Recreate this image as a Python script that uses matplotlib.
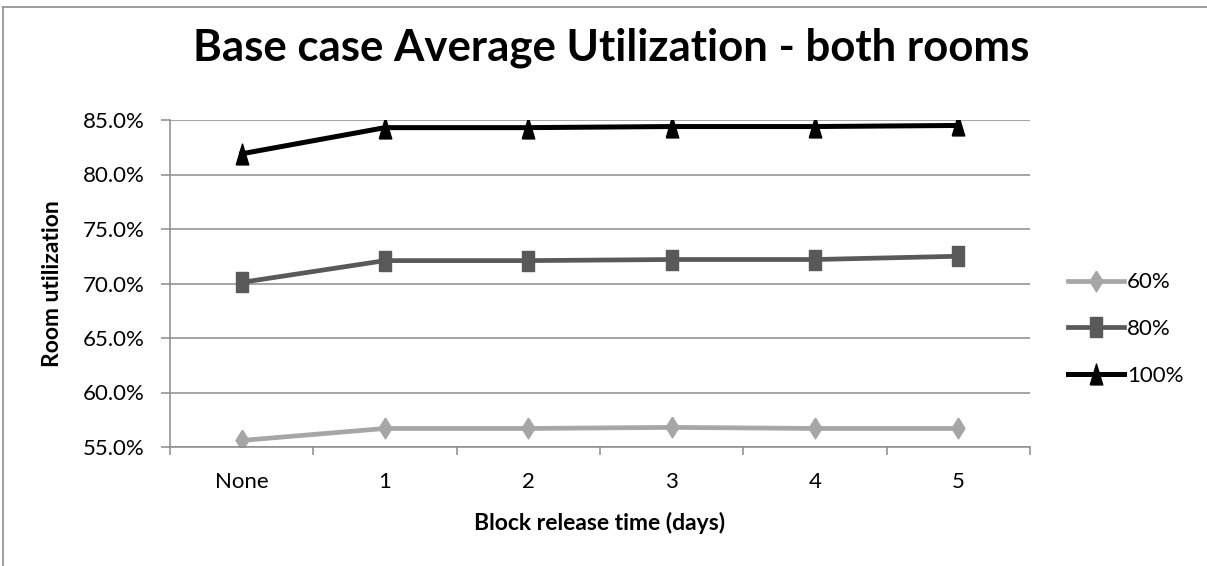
import matplotlib
matplotlib.use("Agg")
import matplotlib.pyplot as plt
from matplotlib.lines import Line2D
from matplotlib.ticker import FuncFormatter, FixedLocator

# Data
categories = ["None", "1", "2", "3", "4", "5"]
util_60 = [55.6, 56.7, 56.7, 56.8, 56.7, 56.7]
util_80 = [70.1, 72.1, 72.1, 72.2, 72.2, 72.5]
util_100 = [81.9, 84.3, 84.3, 84.4, 84.4, 84.5]
series_labels = ["60%", "80%", "100%"]

plt.rcParams['font.family'] = ['Lato', 'DejaVu Sans']

W, H = 1207, 566
fig = plt.figure(figsize=(W / 100, H / 100), dpi=100)

# plot area in pixel coordinates of the reference
left, right, top, bottom = 170, 1030, 120, 447
ax = fig.add_axes([left / W, 1 - bottom / H, (right - left) / W, (bottom - top) / H])

# markers are a bit taller than wide in the reference
diamond = [(0, 1), (0.62, 0), (0, -1), (-0.62, 0), (0, 1)]
square = [(-0.6, -1), (0.6, -1), (0.6, 1), (-0.6, 1), (-0.6, -1)]
triangle = [(-0.6, -1), (0.6, -1), (0, 1), (-0.6, -1)]

x = list(range(len(categories)))
ax.plot(x, util_60, color='#a6a6a6', lw=3.4, marker=diamond, markersize=15,
        label=series_labels[0], solid_joinstyle='round')
ax.plot(x, util_80, color='#595959', lw=3.4, marker=square, markersize=15,
        label=series_labels[1], solid_joinstyle='round')
ax.plot(x, util_100, color='black', lw=3.6, marker=triangle, markersize=15,
        label=series_labels[2], solid_joinstyle='round')

ax.set_xlim(-0.5, len(categories) - 0.5)
ax.set_ylim(55, 85)
ax.set_yticks([55, 60, 65, 70, 75, 80, 85])
ax.yaxis.set_major_formatter(FuncFormatter(lambda v, p: f"{v:.1f}%"))
ax.yaxis.grid(True, color='#8c8c8c', lw=1.1)
ax.set_axisbelow(True)

# tick marks between categories, labels centred on categories
ax.xaxis.set_major_locator(FixedLocator([i - 0.5 for i in range(len(categories) + 1)]))
ax.xaxis.set_minor_locator(FixedLocator(x))
ax.set_xticklabels([])
ax.set_xticklabels(categories, minor=True)
ax.tick_params(axis='x', which='major', length=6, width=1.1, color='#8c8c8c')
ax.tick_params(axis='x', which='minor', length=0, pad=18, labelsize=16)
ax.tick_params(axis='y', length=6.5, width=1.1, color='#8c8c8c', labelsize=16, pad=12)

for s in ['top', 'right']:
    ax.spines[s].set_visible(False)
for s in ['left', 'bottom']:
    ax.spines[s].set_color('#8c8c8c')
    ax.spines[s].set_linewidth(1.1)

ax.set_xlabel("Block release time (days)", fontsize=16.5, fontweight='bold', labelpad=14)
ax.set_ylabel("Room utilization", fontsize=16.5, fontweight='bold', labelpad=14)

fig.text(611 / W, 1 - 48 / H, "Base case Average Utilization - both rooms",
         ha='center', va='center', fontsize=31.5, fontweight='bold')

ax.legend(loc='center left', bbox_to_anchor=(1068 / W, 1 - 329 / H),
          bbox_transform=fig.transFigure, frameon=False, fontsize=16,
          handlelength=2.5, handletextpad=0.15, labelspacing=1.2,
          borderpad=0, borderaxespad=0)

# chart area border (top and left edges visible in the reference)
fig.add_artist(Line2D([3 / W, 3 / W], [0, 1 - 7 / H], transform=fig.transFigure,
                      color='#8c8c8c', lw=1.2))
fig.add_artist(Line2D([3 / W, 1], [1 - 7 / H, 1 - 7 / H], transform=fig.transFigure,
                      color='#8c8c8c', lw=1.2))

fig.savefig("out.png", dpi=100)
